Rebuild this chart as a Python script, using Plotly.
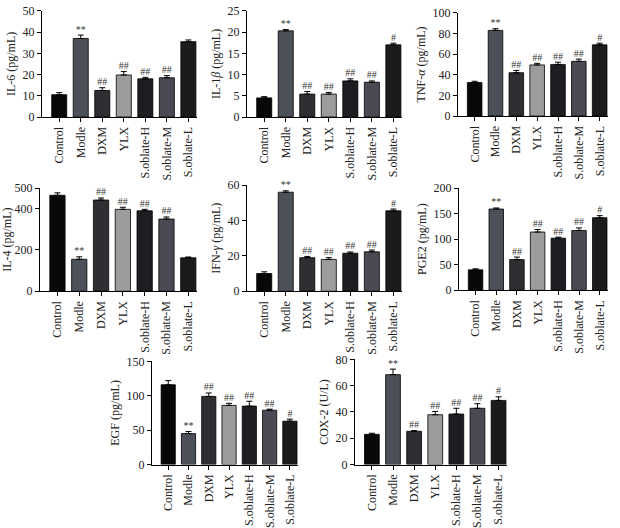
import plotly.graph_objects as go

groups = ["Control", "Modle", "DXM", "YLX", "S.oblate-H", "S.oblate-M", "S.oblate-L"]
bar_colors = ["#080808", "#4c5059", "#2e2f33", "#9b9d9d", "#1d1e21", "#4a4a55", "#1b1b1d"]

il6 = [10.5, 37.0, 12.5, 19.8, 18.0, 18.5, 35.5]
il6_err = [1.0, 1.6, 1.3, 1.6, 0.7, 1.0, 0.8]
il6_sig = ["", "**", "##", "##", "##", "##", ""]

il1b = [4.5, 20.3, 5.4, 5.4, 8.5, 8.2, 17.0]
il1b_err = [0.3, 0.3, 0.6, 0.4, 0.5, 0.3, 0.4]
il1b_sig = ["", "**", "##", "##", "##", "##", "#"]

tnfa = [32.5, 83.0, 42.0, 49.5, 50.0, 53.0, 69.0]
tnfa_err = [1.2, 1.6, 2.2, 1.6, 2.2, 2.2, 1.6]
tnfa_sig = ["", "**", "##", "##", "##", "##", "#"]

il4 = [465, 155, 442, 397, 390, 350, 162]
il4_err = [12, 12, 10, 10, 7, 10, 4]
il4_sig = ["", "**", "##", "##", "##", "##", ""]

ifng = [10.0, 56.0, 19.0, 18.0, 21.5, 22.3, 45.5]
ifng_err = [1.0, 0.8, 0.7, 1.0, 0.7, 1.0, 1.0]
ifng_sig = ["", "**", "##", "##", "##", "##", "#"]

pge2 = [40, 159, 60, 114, 102, 117, 142]
pge2_err = [2, 2, 5, 5, 2, 5, 4]
pge2_sig = ["", "**", "##", "##", "##", "##", "#"]

egf = [116, 45, 99, 86, 85, 79, 63]
egf_err = [6, 3, 5, 3, 7, 1.5, 3]
egf_sig = ["", "**", "##", "##", "##", "##", "#"]

cox2 = [23.0, 68.4, 25.3, 37.9, 38.4, 42.8, 48.8]
cox2_err = [0.8, 4.2, 0.5, 2.5, 4.4, 3.5, 2.7]
cox2_sig = ["", "**", "##", "##", "##", "##", "#"]

panels = [
    dict(v=il6, e=il6_err, s=il6_sig, title="IL-6 (pg/mL)", rng=[0, 50], tv=[0, 10, 20, 30, 40, 50], px=(42, 197), py=(4, 113)),
    dict(v=il1b, e=il1b_err, s=il1b_sig, title="IL-1<i>β</i> (pg/mL)", rng=[0, 25], tv=[0, 5, 10, 15, 20, 25], px=(247, 402), py=(4, 113)),
    dict(v=tnfa, e=tnfa_err, s=tnfa_sig, title="TNF-<i>α</i> (pg/mL)", rng=[0, 100], tv=[0, 20, 40, 60, 80, 100], px=(458, 608), py=(6, 112)),
    dict(v=il4, e=il4_err, s=il4_sig, title="IL-4 (pg/mL)", rng=[0, 500], tv=[0, 200, 400, 500], px=(40, 197), py=(186, 292)),
    dict(v=ifng, e=ifng_err, s=ifng_sig, title="IFN-<i>γ</i> (pg/mL)", rng=[0, 60], tv=[0, 20, 40, 60], px=(247, 402), py=(183, 292)),
    dict(v=pge2, e=pge2_err, s=pge2_sig, title="PGE2 (pg/mL)", rng=[0, 200], tv=[0, 50, 100, 150, 200], px=(459, 608), py=(186, 291)),
    dict(v=egf, e=egf_err, s=egf_sig, title="EGF (pg/mL)", rng=[0, 150], tv=[0, 50, 100, 150], px=(152, 298), py=(364, 470)),
    dict(v=cox2, e=cox2_err, s=cox2_sig, title="COX-2 (U/L)", rng=[0, 80], tv=[0, 20, 40, 60, 80], px=(355, 507), py=(362, 470)),
]

W, H = 620, 528
FONT = "Liberation Serif"
fig = go.Figure()
layout = {}
for i, p in enumerate(panels, start=1):
    xa = "x" if i == 1 else f"x{i}"
    ya = "y" if i == 1 else f"y{i}"
    fig.add_trace(go.Bar(
        x=groups, y=p["v"], xaxis=xa, yaxis=ya,
        marker=dict(color=bar_colors, line=dict(color="#000000", width=0.8)),
        width=0.7,
        error_y=dict(type="data", array=p["e"], arrayminus=[0] * 7, symmetric=False,
                     color="#000000", thickness=1, width=3),
        showlegend=False, cliponaxis=False,
    ))
    fig.add_trace(go.Scatter(
        x=groups, y=[v + e for v, e in zip(p["v"], p["e"])], xaxis=xa, yaxis=ya,
        mode="text", text=p["s"], textposition="top center",
        textfont=dict(family=FONT, size=10, color="#333333"),
        showlegend=False, hoverinfo="skip", cliponaxis=False,
    ))
    ax_common = dict(showline=True, linecolor="#000000", linewidth=1, ticks="outside",
                     ticklen=4, tickcolor="#000000", showgrid=False, zeroline=False,
                     tickfont=dict(family=FONT, size=12, color="#222222"))
    layout["xaxis" if i == 1 else f"xaxis{i}"] = dict(
        domain=[p["px"][0] / W, p["px"][1] / W], anchor=ya,
        range=[-0.8, 6.4], tickangle=-90, fixedrange=True, **ax_common)
    layout["yaxis" if i == 1 else f"yaxis{i}"] = dict(
        domain=[1 - p["py"][1] / H, 1 - p["py"][0] / H], anchor=xa,
        range=p["rng"], tickvals=p["tv"],
        title=dict(text=p["title"], font=dict(family=FONT, size=12, color="#222222"), standoff=4),
        **ax_common)

fig.update_layout(
    width=W, height=H, margin=dict(l=0, r=0, t=0, b=0),
    paper_bgcolor="white", plot_bgcolor="white", bargap=0.3,
    font=dict(family=FONT, size=12, color="#222222"),
    **layout,
)
fig.write_html("out.html", config={"displayModeBar": False},
               post_script="document.body.style.margin='0';document.body.style.overflow='hidden';")
